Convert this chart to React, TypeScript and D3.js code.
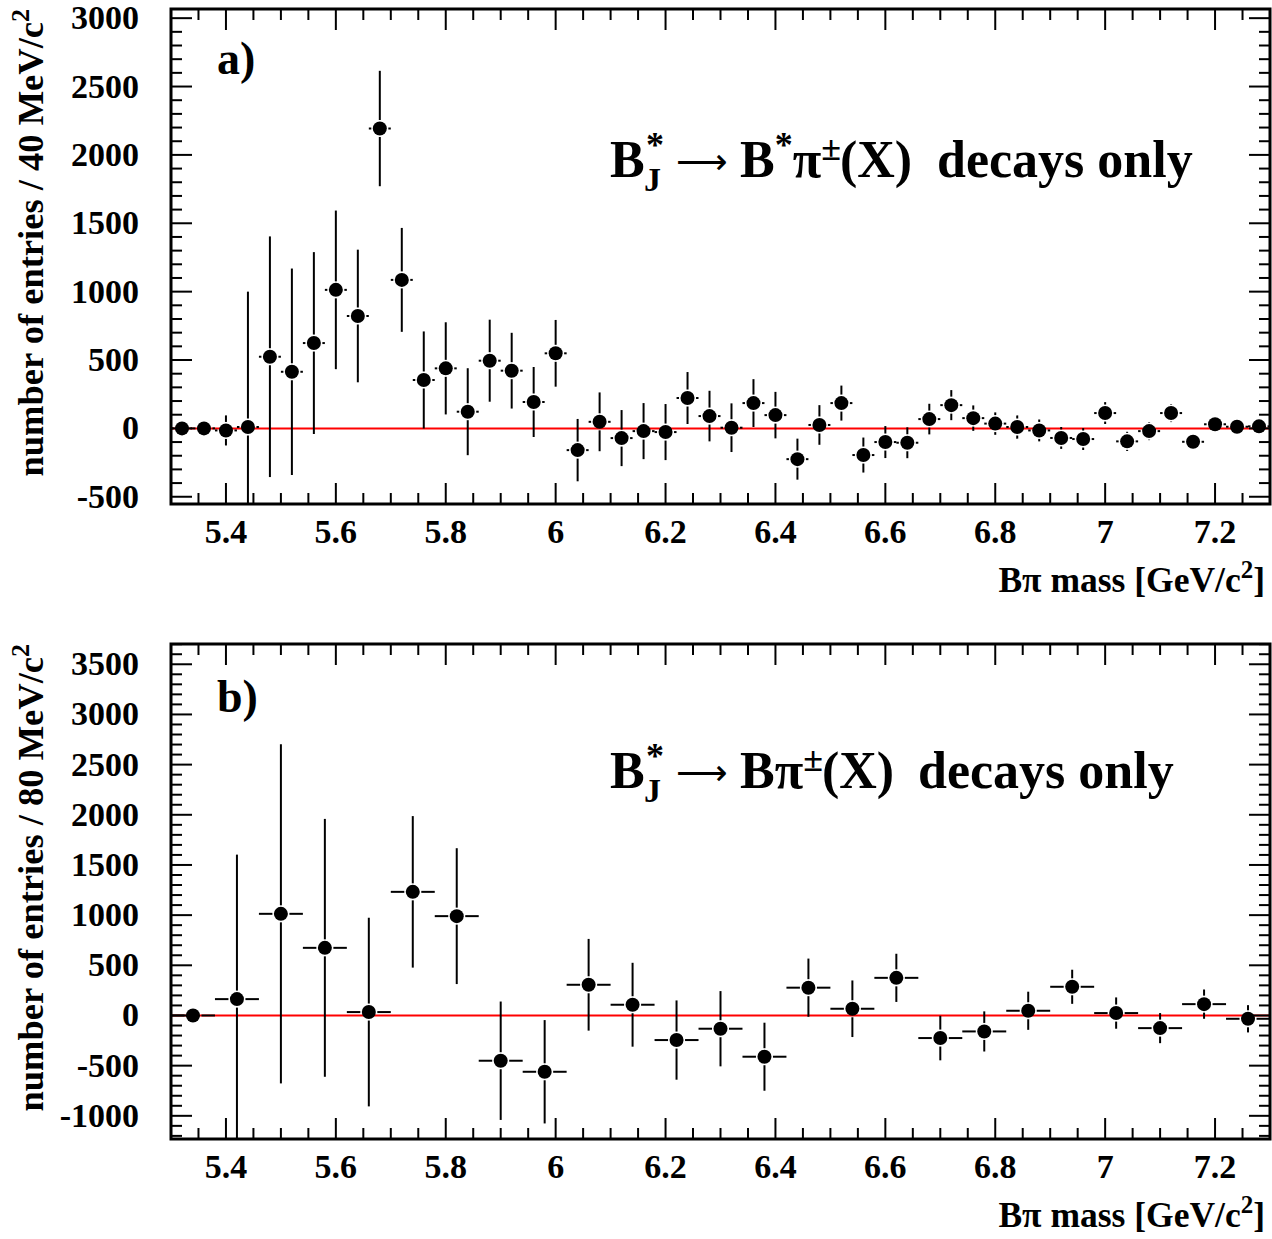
import React from 'react';
import * as d3 from 'd3';

// ---------- data: panel a) 40 MeV bins ----------
const massA = [5.32, 5.36, 5.40, 5.44, 5.48, 5.52, 5.56, 5.60, 5.64, 5.68, 5.72, 5.76, 5.80, 5.84, 5.88, 5.92, 5.96, 6.00, 6.04, 6.08,
  6.12, 6.16, 6.20, 6.24, 6.28, 6.32, 6.36, 6.40, 6.44, 6.48, 6.52, 6.56, 6.60, 6.64, 6.68, 6.72, 6.76, 6.80, 6.84, 6.88,
  6.92, 6.96, 7.00, 7.04, 7.08, 7.12, 7.16, 7.20, 7.24, 7.28];
const countsA = [0, 0, -15, 10, 524, 414, 624, 1013, 822, 2193, 1086, 354, 439, 122, 495, 422, 193, 549, -159, 48,
  -71, -20, -27, 222, 90, 5, 185, 97, -225, 25, 185, -195, -100, -105, 68, 170, 75, 35, 10, -15,
  -70, -78, 112, -95, -20, 112, -98, 30, 12, 15];
const errorsA = [0, 0, 110, 990, 880, 755, 665, 580, 485, 422, 380, 355, 337, 318, 300, 277, 256, 244, 228, 215,
  205, 205, 205, 190, 185, 178, 175, 170, 150, 145, 128, 128, 117, 113, 112, 110, 93, 82, 85, 80,
  80, 80, 80, 70, 66, 66, 61, 58, 45, 45];

// ---------- data: panel b) 80 MeV bins ----------
const massB = [5.34, 5.42, 5.50, 5.58, 5.66, 5.74, 5.82, 5.90, 5.98, 6.06, 6.14, 6.22, 6.30, 6.38, 6.46, 6.54, 6.62, 6.70,
  6.78, 6.86, 6.94, 7.02, 7.10, 7.18, 7.26];
const countsB = [0, 163, 1013, 674, 34, 1232, 990, -451, -561, 306, 107, -245, -132, -411, 277, 67, 375, -225,
  -159, 47, 286, 24, -126, 113, -33];
const errorsB = [0, 1440, 1690, 1285, 940, 755, 677, 590, 515, 457, 418, 395, 375, 339, 290, 282, 240, 222,
  200, 190, 170, 156, 150, 146, 136];

// ---------- axes ----------
const xTickLabels = [5.4, 5.6, 5.8, 6.0, 6.2, 6.4, 6.6, 6.8, 7.0, 7.2];
const yTicksA = [-500, 0, 500, 1000, 1500, 2000, 2500, 3000];
const yTicksB = [-1000, -500, 0, 500, 1000, 1500, 2000, 2500, 3000, 3500];

const FONT = '"Liberation Serif", "Times New Roman", Times, serif';
const LEFT = 171;
const RIGHT = 1270;

type PanelProps = {
  top: number; bottom: number; yDomain: [number, number];
  mass: number[]; counts: number[]; errors: number[]; half: number;
  yTicks: number[]; binLabel: string; tag: string; id: string;
  decay: 'star' | 'plain';
};

function Panel(p: PanelProps) {
  const x = d3.scaleLinear().domain([5.3, 7.3]).range([LEFT, RIGHT]);
  const y = d3.scaleLinear().domain(p.yDomain).range([p.bottom, p.top]);
  const minorX = d3.range(106, 147).map(i => i * 0.05).filter(v => Math.abs(v * 5 - Math.round(v * 5)) > 1e-6);
  const minorY = d3.range(Math.ceil(p.yDomain[0] / 100), Math.floor(p.yDomain[1] / 100) + 1)
    .filter(i => i % 5 !== 0).map(i => i * 100);
  const majT = 21, minT = 11;
  const r = 7, gap = 8.5;
  const annY = p.decay === 'star' ? 177 : 788;
  const tagY = p.decay === 'star' ? 74 : 712;

  return (
    <g>
      <defs>
        <clipPath id={p.id}>
          <rect x={LEFT} y={p.top} width={RIGHT - LEFT} height={p.bottom - p.top} />
        </clipPath>
      </defs>
      {/* zero line */}
      <line x1={LEFT} x2={RIGHT} y1={y(0)} y2={y(0)} stroke="#ff0000" strokeWidth={2} />
      {/* data */}
      <g clipPath={`url(#${p.id})`} stroke="#000" strokeWidth={2}>
        {p.mass.map((m, i) => {
          const cx = x(m), cy = y(p.counts[i]);
          const xl = x(m - p.half), xr = x(m + p.half);
          const yt = y(p.counts[i] + p.errors[i]), yb = y(p.counts[i] - p.errors[i]);
          return (
            <g key={i}>
              {xl < cx - gap && <line x1={xl} x2={cx - gap} y1={cy} y2={cy} />}
              {xr > cx + gap && <line x1={cx + gap} x2={xr} y1={cy} y2={cy} />}
              {yt < cy - gap && <line x1={cx} x2={cx} y1={yt} y2={cy - gap} />}
              {yb > cy + gap && <line x1={cx} x2={cx} y1={cy + gap} y2={yb} />}
              <circle cx={cx} cy={cy} r={r} fill="#000" stroke="none" />
            </g>
          );
        })}
      </g>
      {/* ticks */}
      <g stroke="#000" strokeWidth={2}>
        {xTickLabels.map(v => (
          <g key={'xM' + v}>
            <line x1={x(v)} x2={x(v)} y1={p.bottom} y2={p.bottom - majT} />
            <line x1={x(v)} x2={x(v)} y1={p.top} y2={p.top + majT} />
          </g>
        ))}
        {minorX.map(v => (
          <g key={'xm' + v}>
            <line x1={x(v)} x2={x(v)} y1={p.bottom} y2={p.bottom - minT} />
            <line x1={x(v)} x2={x(v)} y1={p.top} y2={p.top + minT} />
          </g>
        ))}
        {p.yTicks.map(v => (
          <g key={'yM' + v}>
            <line x1={LEFT} x2={LEFT + majT} y1={y(v)} y2={y(v)} />
            <line x1={RIGHT} x2={RIGHT - majT} y1={y(v)} y2={y(v)} />
          </g>
        ))}
        {minorY.map(v => (
          <g key={'ym' + v}>
            <line x1={LEFT} x2={LEFT + minT} y1={y(v)} y2={y(v)} />
            <line x1={RIGHT} x2={RIGHT - minT} y1={y(v)} y2={y(v)} />
          </g>
        ))}
      </g>
      {/* frame */}
      <rect x={LEFT} y={p.top} width={RIGHT - LEFT} height={p.bottom - p.top} fill="none" stroke="#000" strokeWidth={3} />
      {/* tick labels */}
      <g fontFamily={FONT} fontWeight="bold" fontSize={34} fill="#000">
        {xTickLabels.map(v => (
          <text key={'xl' + v} x={x(v)} y={p.bottom + 39} textAnchor="middle">{String(v)}</text>
        ))}
        {p.yTicks.map(v => (
          <text key={'yl' + v} x={139} y={y(v) + 11} textAnchor="end">{String(v)}</text>
        ))}
        <text x={1265} y={p.bottom + 88} textAnchor="end" fontSize={35.5}>
          Bπ mass [GeV/c<tspan dy={-14} fontSize={25}>2</tspan><tspan dy={14}>]</tspan>
        </text>
        <text transform={`translate(43, ${p.top}) rotate(-90)`} textAnchor="end" fontSize={36.5}>
          number of entries / {p.binLabel} MeV/c<tspan dy={-14} fontSize={26}>2</tspan>
        </text>
        <text x={217} y={tagY} fontSize={46}>{p.tag}</text>
      </g>
      {/* decay annotation */}
      <g fontFamily={FONT} fontWeight="bold" fill="#000">
        <text x={610} y={annY} fontSize={52}>B</text>
        <text x={646} y={annY - 20} fontSize={36}>*</text>
        <text x={644} y={annY + 14} fontSize={34}>J</text>
        <text x={676} y={annY - 3} fontSize={36} fontWeight="normal" fontFamily='"DejaVu Sans", sans-serif'>⟶</text>
        {p.decay === 'star' ? (
          <text x={740} y={annY} fontSize={52}>
            B<tspan dy={-20} fontSize={36}>*</tspan><tspan dy={20}>π</tspan><tspan dy={-17} fontSize={36}>±</tspan><tspan dy={17} dx={-1}>(X)</tspan>
          </text>
        ) : (
          <text x={740} y={annY} fontSize={52}>
            Bπ<tspan dy={-17} fontSize={36}>±</tspan><tspan dy={17} dx={-1}>(X)</tspan>
          </text>
        )}
        <text x={p.decay === 'star' ? 937 : 918} y={annY} fontSize={52}>decays only</text>
      </g>
    </g>
  );
}

export default function App() {
  return (
    <svg width={1272} height={1239} style={{ position: 'absolute', left: 0, top: 0, background: '#fff' }}>
      <rect x={0} y={0} width={1272} height={1239} fill="#fff" />
      <Panel top={9} bottom={504} yDomain={[-553, 3067]} mass={massA} counts={countsA} errors={errorsA}
        half={0.02} yTicks={yTicksA} binLabel="40" tag="a)" id="clipA" decay="star" />
      <Panel top={644} bottom={1139} yDomain={[-1231, 3702]} mass={massB} counts={countsB} errors={errorsB}
        half={0.04} yTicks={yTicksB} binLabel="80" tag="b)" id="clipB" decay="plain" />
    </svg>
  );
}
